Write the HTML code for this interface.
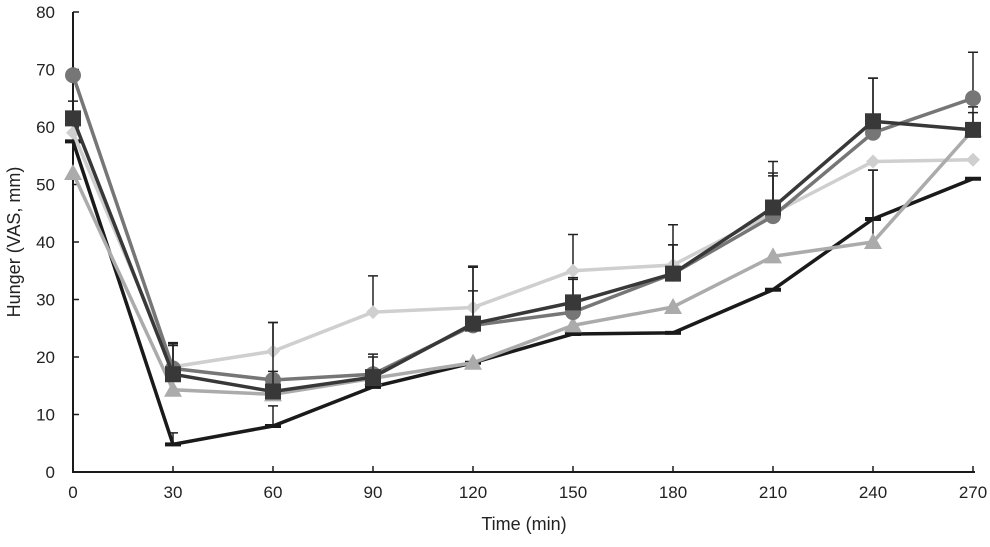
<!DOCTYPE html>
<html><head><meta charset="utf-8"><style>
body{margin:0;background:#fff;}
svg text{font-family:"Liberation Sans",sans-serif;fill:#222;}
</style></head><body>
<svg id="chart" width="990" height="542" viewBox="0 0 990 542" xmlns="http://www.w3.org/2000/svg"></svg>
<script>
const xCategories=[0,30,60,90,120,150,180,210,240,270];
const yTicks=[0,10,20,30,40,50,60,70,80];
const blackValues=[57.5,4.8,8,14.8,19,24,24.2,31.7,44,51];
const circleValues=[69,18,16,17,25.5,27.8,34.5,44.5,59,65];
const squareValues=[61.5,17,14,16.5,25.8,29.5,34.5,46,61,59.5];
const diamondValues=[59,18.3,21,27.8,28.6,35,36,45,54,54.3];
const triangleValues=[52,14.3,13.5,16.3,19,25.5,28.7,37.5,40,59.5];
const blackErr=[0,2,3.5,0,0,0,0,0,8.5,0];
const circleErr=[0,4,10,3,6,6,5,7,9.5,8];
const squareErr=[3,5.5,3.5,4,10,4,5,8,7.5,3];
const diamondErr=[0,4,5,6.3,7,6.3,7,7,0,0];
const triangleErr=[0,0,0,0,0,3,0,0,12.5,4];

const NS="http://www.w3.org/2000/svg";
const svg=document.getElementById('chart');
const X=v=>73+v*(900/270);
const Y=v=>472-v*5.75;
function mk(t,a){const e=document.createElementNS(NS,t);for(const k in a)e.setAttribute(k,a[k]);svg.appendChild(e);return e;}

let ax=mk('line',{x1:72,y1:472,x2:975,y2:472,stroke:'#1a1a1a','stroke-width':2});


let ay=mk('line',{x1:73,y1:12,x2:73,y2:473,stroke:'#1a1a1a','stroke-width':2});


yTicks.forEach(v=>{
  mk('line',{x1:73,y1:Y(v),x2:79,y2:Y(v),stroke:'#1a1a1a','stroke-width':1.5});
  const t=mk('text',{x:55,y:Y(v)+6,'text-anchor':'end','font-size':17});t.textContent=v;
  
  
});
xCategories.forEach(v=>{
  mk('line',{x1:X(v),y1:466,x2:X(v),y2:472,stroke:'#1a1a1a','stroke-width':1.5});
  const t=mk('text',{x:X(v),y:498,'text-anchor':'middle','font-size':17});t.textContent=v;
  
  
});
let xt=mk('text',{x:524,y:530,'text-anchor':'middle','font-size':18});xt.textContent='Time (min)';


let yt=mk('text',{x:0,y:0,'text-anchor':'middle','font-size':18,transform:'translate(20,242) rotate(-90)'});yt.textContent='Hunger (VAS, mm)';



function series(vals,err,color,marker,name){
  const g=document.createElementNS(NS,'g');svg.appendChild(g);
  
  
  vals.forEach((v,i)=>{if(err[i]>0){
    const e1=document.createElementNS(NS,'path');
    e1.setAttribute('d',`M${X(xCategories[i])},${Y(v)}V${Y(v+err[i])}M${X(xCategories[i])-5},${Y(v+err[i])}h10`);
    e1.setAttribute('stroke','#222');e1.setAttribute('stroke-width',1.5);e1.setAttribute('fill','none');g.appendChild(e1);}});
  const p=document.createElementNS(NS,'polyline');
  p.setAttribute('points',vals.map((v,i)=>X(xCategories[i])+','+Y(v)).join(' '));
  p.setAttribute('fill','none');p.setAttribute('stroke',color);p.setAttribute('stroke-width',3.5);g.appendChild(p);
  vals.forEach((v,i)=>{
    const cx=X(xCategories[i]),cy=Y(v);let m;
    if(marker==='circle'){m=document.createElementNS(NS,'circle');m.setAttribute('cx',cx);m.setAttribute('cy',cy);m.setAttribute('r',8);}
    else if(marker==='square'){m=document.createElementNS(NS,'rect');m.setAttribute('x',cx-8);m.setAttribute('y',cy-8);m.setAttribute('width',16);m.setAttribute('height',16);}
    else if(marker==='diamond'){m=document.createElementNS(NS,'polygon');m.setAttribute('points',`${cx},${cy-7} ${cx+7},${cy} ${cx},${cy+7} ${cx-7},${cy}`);}
    else if(marker==='triangle'){m=document.createElementNS(NS,'polygon');m.setAttribute('points',`${cx},${cy-9} ${cx+9},${cy+7} ${cx-9},${cy+7}`);}
    else {m=document.createElementNS(NS,'rect');m.setAttribute('x',cx-8);m.setAttribute('y',cy-2);m.setAttribute('width',16);m.setAttribute('height',4);}
    m.setAttribute('fill',color);
    
    
    g.appendChild(m);
  });
}
series(blackValues,blackErr,'#1a1a1a','dash','series-black');
series(diamondValues,diamondErr,'#cfcfcf','diamond','series-diamond');
series(triangleValues,triangleErr,'#ababab','triangle','series-triangle');
series(circleValues,circleErr,'#767676','circle','series-circle');
series(squareValues,squareErr,'#383838','square','series-square');
</script>
</body></html>
